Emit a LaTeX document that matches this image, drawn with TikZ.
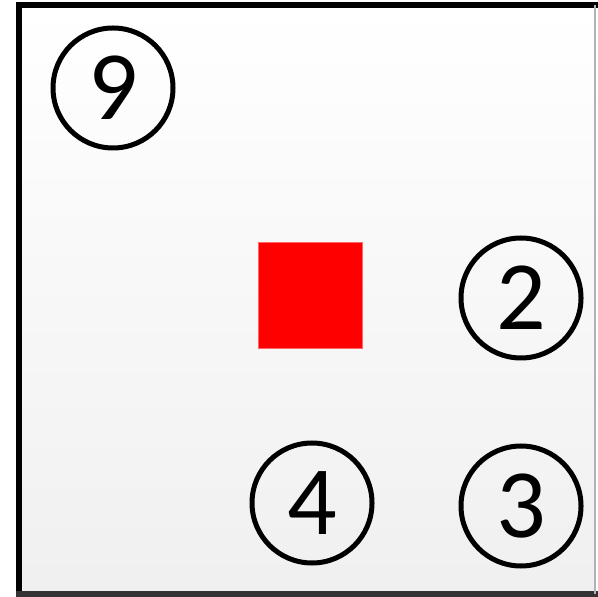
\documentclass[tikz,border=0pt]{standalone}
\usepackage{fontspec}
\setmainfont{Carlito}
\usetikzlibrary{positioning}

\begin{document}
\begin{tikzpicture}[
  x=0.5pt, y=-0.5pt,
  num/.style={draw, line width=2.5pt, circle, minimum size=60pt,
              inner sep=0pt, font=\fontsize{49}{49}\selectfont},
  block/.style={fill=red, draw=red!60!white, line width=0.5pt,
                minimum width=52pt, minimum height=53pt, inner sep=0pt},
  frame/.style={line width=3pt, line cap=rect}
]
  \useasboundingbox (0,0) rectangle (598,597);
  \shade[top color=white, middle color=white, bottom color=gray!12]
    (19,5) rectangle (596,595);

  \draw[frame] (19,595) -- (19,5) -- (596,5);
  \draw[frame, black!80] (19,594) -- (596,594);
  \draw[gray!60, line width=0.8pt] (595,5) -- (595,594);

  \node[num]   (n9) at (113,88)  {9};
  \node[num]   (n2) at (521,298) {2};
  \node[num]   (n4) at (312,503) {4};
  \node[num]   (n3) at (521,506) {3};
  \node[block] (sq) at (310,296) {};
\end{tikzpicture}
\end{document}
